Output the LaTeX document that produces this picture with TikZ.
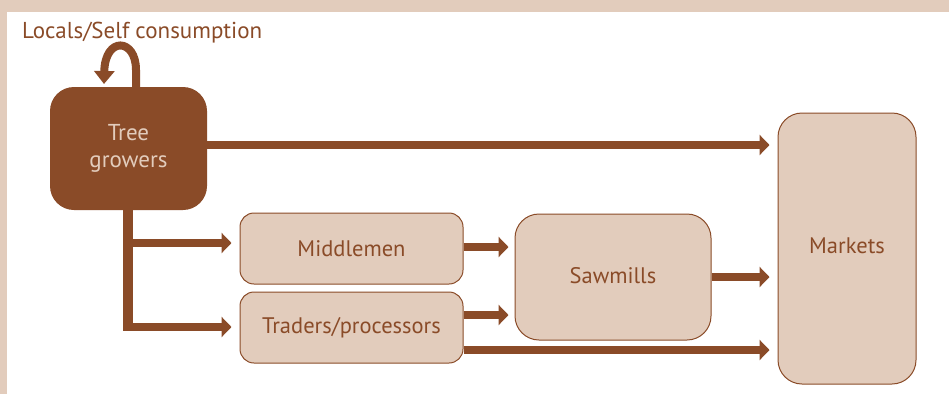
\documentclass[tikz,border=0pt]{standalone}
\usepackage{fontspec}
\setmainfont{PT Sans}
\usetikzlibrary{arrows.meta}
\definecolor{brn}{HTML}{8A4B28}
\definecolor{bge}{HTML}{E2CCBC}
\tikzset{
  lightbox/.style={draw=brn, line width=1pt, fill=bge, rounded corners=14pt, text=brn, font=\fontsize{22.5}{26}\selectfont},
  flow/.style={draw=brn, line width=8.5pt, -{Triangle[length=10pt,width=20pt]}, shorten >=8pt},
  trunk/.style={draw=brn, line width=10pt}
}
\begin{document}
\begin{tikzpicture}[x=1pt,y=-1pt]
\useasboundingbox (0,0) rectangle (949,394);
\fill[bge] (0,0) rectangle (949,12);
\fill[bge] (0,12) rectangle (7,394);
\node[anchor=base west, text=brn, font=\fontsize{23}{26}\selectfont, inner sep=0] (title) at (22,38) {Locals/Self consumption};
\node[fill=brn, rounded corners=24pt, minimum width=157pt, minimum height=123pt, text=bge, align=center, font=\fontsize{23}{27}\selectfont, inner sep=0] (tree) at (128.5,148.5) {Tree\\growers};
\node[lightbox, minimum width=223pt, minimum height=71pt, inner sep=0] (mid) at (351.5,248.5) {Middlemen};
\node[lightbox, minimum width=223pt, minimum height=71pt, inner sep=0] (trd) at (351.5,327.5) {Traders/processors};
\node[lightbox, rounded corners=24pt, minimum width=196pt, minimum height=126pt, inner sep=0] (saw) at (613,277) {\raisebox{4pt}{Sawmills}};
\node[lightbox, rounded corners=24pt, minimum width=138pt, minimum height=271pt, inner sep=0] (mkt) at (847,248.5) {\raisebox{6pt}{Markets}};
% loop
\draw[draw=brn, line width=8pt, -{Triangle[length=13pt,width=20pt]}] (tree.north -| 136,0) -- (136,70) .. controls (136,38) and (105,36) .. (104,84);
% tree growers to markets
\draw[flow] (tree.east |- 0,145) -- (mkt.west |- 0,145);
% trunk
\draw[trunk] (tree.south -| 128,0) -- (128,331);
\draw[flow] (124,243) -- (mid.west |- 0,243);
\draw[flow] (124,327) -- (trd.west |- 0,327);
% middle arrows
\draw[flow, shorten >=6pt] (mid.east |- 0,247) -- (saw.west |- 0,247);
\draw[flow, shorten >=6pt] (trd.east |- 0,315) -- (saw.west |- 0,315);
\draw[flow] (saw.east |- 0,277) -- (mkt.west |- 0,277);
\draw[flow] (trd.east |- 0,350) -- (mkt.west |- 0,350);
\end{tikzpicture}
\end{document}
